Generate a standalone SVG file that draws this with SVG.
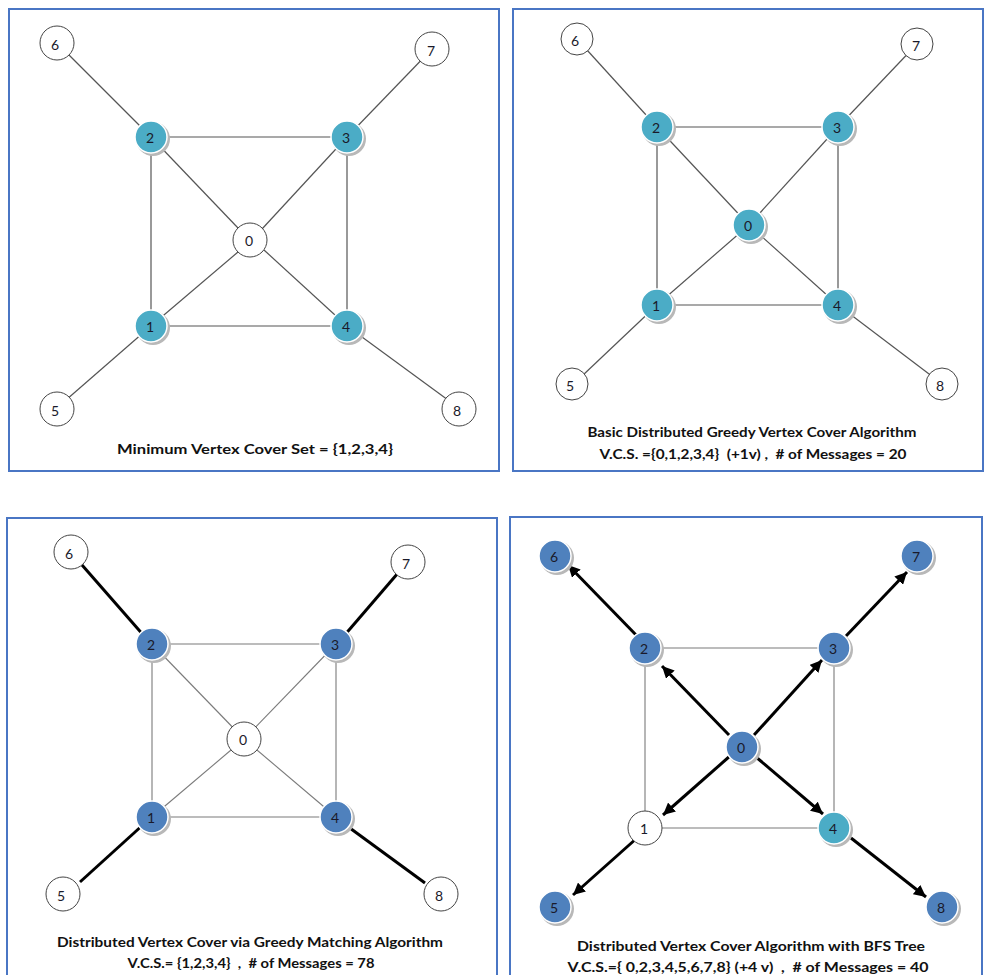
<svg xmlns="http://www.w3.org/2000/svg" width="985" height="975" viewBox="0 0 985 975">
<defs>
<marker id="ah" viewBox="0 0 10 10" refX="10" refY="5" markerWidth="4" markerHeight="4" orient="auto" markerUnits="strokeWidth">
<path d="M0,0 L10,5 L0,10 z" fill="#000"/>
</marker>
</defs>
<style>
.frame{fill:#fff;stroke:#4a76c4;stroke-width:2}
.e{stroke:#555;stroke-width:1.2;fill:none}
.el{stroke:#7a7a7a;stroke-width:1.1;fill:none}
.t{stroke:#000;stroke-width:3;fill:none}
.a{stroke:#000;stroke-width:3;fill:none;marker-end:url(#ah)}
.w{fill:#fff;stroke:#444;stroke-width:1}
.sh{fill:#b8b8b8}
.teal{fill:#4bacc6;stroke:#fff;stroke-width:1.5}
.blue{fill:#4f81bd;stroke:#fff;stroke-width:1.5}
.lb{font-family:"Lato","Liberation Sans",sans-serif;font-size:14px;fill:#1a1a2a;text-anchor:middle;dominant-baseline:central}
.cap{font-family:"Lato","Liberation Sans",sans-serif;font-size:14px;font-weight:bold;fill:#111;text-anchor:middle;white-space:pre}
</style>
<rect width="985" height="975" fill="#fff"/>

<!-- Panel 1 -->
<g id="panel1">
<rect class="frame" x="9" y="9" width="490" height="462"/>
<g id="p1-edges">
<line class="e" x1="57" y1="43" x2="151" y2="137"/>
<line class="e" x1="432" y1="49" x2="347" y2="137"/>
<line class="e" x1="151" y1="137" x2="347" y2="137"/>
<line class="e" x1="151" y1="137" x2="151" y2="326"/>
<line class="e" x1="347" y1="137" x2="347" y2="326"/>
<line class="e" x1="151" y1="326" x2="347" y2="326"/>
<line class="e" x1="151" y1="137" x2="238" y2="228"/>
<line class="e" x1="347" y1="137" x2="262" y2="229"/>
<line class="e" x1="151" y1="326" x2="238" y2="252"/>
<line class="e" x1="347" y1="326" x2="264" y2="250"/>
<line class="e" x1="151" y1="326" x2="66" y2="400"/>
<line class="e" x1="347" y1="326" x2="448" y2="400"/>
</g>
<g id="p1-n0"><circle class="w" cx="250" cy="240" r="17"/><text class="lb" x="249" y="240">0</text></g>
<g id="p1-n1"><circle class="sh" cx="153" cy="328" r="17"/><circle class="teal" cx="151" cy="326" r="16"/><text class="lb" x="150" y="326">1</text></g>
<g id="p1-n2"><circle class="sh" cx="153" cy="139" r="17"/><circle class="teal" cx="151" cy="137" r="16"/><text class="lb" x="150" y="137">2</text></g>
<g id="p1-n3"><circle class="sh" cx="349" cy="139" r="17"/><circle class="teal" cx="347" cy="137" r="16"/><text class="lb" x="346" y="137">3</text></g>
<g id="p1-n4"><circle class="sh" cx="349" cy="328" r="17"/><circle class="teal" cx="347" cy="326" r="16"/><text class="lb" x="346" y="326">4</text></g>
<g id="p1-n5"><circle class="w" cx="57" cy="409" r="17"/><text class="lb" x="55" y="410">5</text></g>
<g id="p1-n6"><circle class="w" cx="57" cy="43" r="17"/><text class="lb" x="55" y="44">6</text></g>
<g id="p1-n7"><circle class="w" cx="432" cy="49" r="17"/><text class="lb" x="431" y="50">7</text></g>
<g id="p1-n8"><circle class="w" cx="459" cy="409" r="17"/><text class="lb" x="457" y="410">8</text></g>
<text class="cap" x="255" y="454" textLength="276" lengthAdjust="spacingAndGlyphs">Minimum Vertex Cover Set = {1,2,3,4}</text>
</g>

<!-- Panel 2 -->
<g id="panel2">
<rect class="frame" x="513" y="9" width="470" height="462"/>
<g id="p2-edges">
<line class="e" x1="577" y1="39" x2="657" y2="127"/>
<line class="e" x1="917" y1="44" x2="838" y2="127"/>
<line class="e" x1="657" y1="127" x2="838" y2="127"/>
<line class="e" x1="657" y1="127" x2="657" y2="305"/>
<line class="e" x1="838" y1="127" x2="838" y2="305"/>
<line class="e" x1="657" y1="305" x2="838" y2="305"/>
<line class="e" x1="657" y1="127" x2="749" y2="225"/>
<line class="e" x1="838" y1="127" x2="749" y2="225"/>
<line class="e" x1="657" y1="305" x2="749" y2="225"/>
<line class="e" x1="838" y1="305" x2="749" y2="225"/>
<line class="e" x1="657" y1="305" x2="582" y2="376"/>
<line class="e" x1="838" y1="305" x2="933" y2="377"/>
</g>
<g id="p2-n0"><circle class="sh" cx="751" cy="227" r="17"/><circle class="teal" cx="749" cy="225" r="16"/><text class="lb" x="748" y="225">0</text></g>
<g id="p2-n1"><circle class="sh" cx="659" cy="307" r="17"/><circle class="teal" cx="657" cy="305" r="16"/><text class="lb" x="656" y="305">1</text></g>
<g id="p2-n2"><circle class="sh" cx="659" cy="129" r="17"/><circle class="teal" cx="657" cy="127" r="16"/><text class="lb" x="656" y="127">2</text></g>
<g id="p2-n3"><circle class="sh" cx="840" cy="129" r="17"/><circle class="teal" cx="838" cy="127" r="16"/><text class="lb" x="837" y="127">3</text></g>
<g id="p2-n4"><circle class="sh" cx="840" cy="307" r="17"/><circle class="teal" cx="838" cy="305" r="16"/><text class="lb" x="837" y="305">4</text></g>
<g id="p2-n5"><circle class="w" cx="572" cy="384" r="16"/><text class="lb" x="570" y="385">5</text></g>
<g id="p2-n6"><circle class="w" cx="577" cy="39" r="16"/><text class="lb" x="575" y="40">6</text></g>
<g id="p2-n7"><circle class="w" cx="917" cy="44" r="16"/><text class="lb" x="916" y="45">7</text></g>
<g id="p2-n8"><circle class="w" cx="942" cy="384" r="16"/><text class="lb" x="940" y="385">8</text></g>
<text class="cap" x="752" y="437" textLength="329" lengthAdjust="spacingAndGlyphs">Basic Distributed Greedy Vertex Cover Algorithm</text>
<text class="cap" x="753" y="459" textLength="307" lengthAdjust="spacingAndGlyphs">V.C.S. ={0,1,2,3,4}  (+1v) ,  # of Messages = 20</text>
</g>

<!-- Panel 3 -->
<g id="panel3">
<rect class="frame" x="7" y="518" width="490" height="470"/>
<g id="p3-edges">
<line class="el" x1="152" y1="644" x2="336" y2="644"/>
<line class="el" x1="152" y1="644" x2="152" y2="817"/>
<line class="el" x1="336" y1="644" x2="336" y2="817"/>
<line class="el" x1="152" y1="817" x2="336" y2="817"/>
<line class="el" x1="152" y1="644" x2="244" y2="739"/>
<line class="el" x1="336" y1="644" x2="244" y2="739"/>
<line class="el" x1="152" y1="817" x2="244" y2="739"/>
<line class="el" x1="336" y1="817" x2="244" y2="739"/>
<line class="t" x1="82" y1="565" x2="145" y2="637"/>
<line class="t" x1="398" y1="573" x2="343" y2="637"/>
<line class="t" x1="145" y1="823" x2="80" y2="882"/>
<line class="t" x1="343" y1="823" x2="425" y2="883"/>
</g>
<g id="p3-n0"><circle class="w" cx="244" cy="739" r="17"/><text class="lb" x="243" y="739">0</text></g>
<g id="p3-n1"><circle class="sh" cx="154" cy="819" r="17"/><circle class="blue" cx="152" cy="817" r="16"/><text class="lb" x="151" y="817">1</text></g>
<g id="p3-n2"><circle class="sh" cx="154" cy="646" r="17"/><circle class="blue" cx="152" cy="644" r="16"/><text class="lb" x="151" y="644">2</text></g>
<g id="p3-n3"><circle class="sh" cx="338" cy="646" r="17"/><circle class="blue" cx="336" cy="644" r="16"/><text class="lb" x="335" y="644">3</text></g>
<g id="p3-n4"><circle class="sh" cx="338" cy="819" r="17"/><circle class="blue" cx="336" cy="817" r="16"/><text class="lb" x="335" y="817">4</text></g>
<g id="p3-n5"><circle class="w" cx="63" cy="894" r="17"/><text class="lb" x="61" y="895">5</text></g>
<g id="p3-n6"><circle class="w" cx="71" cy="552" r="17"/><text class="lb" x="69" y="553">6</text></g>
<g id="p3-n7"><circle class="w" cx="408" cy="562" r="17"/><text class="lb" x="406" y="563">7</text></g>
<g id="p3-n8"><circle class="w" cx="441" cy="894" r="17"/><text class="lb" x="439" y="895">8</text></g>
<text class="cap" x="250" y="947" textLength="386" lengthAdjust="spacingAndGlyphs">Distributed Vertex Cover via Greedy Matching Algorithm</text>
<text class="cap" x="251" y="968" textLength="247" lengthAdjust="spacingAndGlyphs">V.C.S.= {1,2,3,4}  ,  # of Messages = 78</text>
</g>

<!-- Panel 4 -->
<g id="panel4">
<rect class="frame" x="510" y="517" width="472" height="470"/>
<g id="p4-edges">
<line class="el" x1="645" y1="648" x2="834" y2="648"/>
<line class="el" x1="645" y1="648" x2="645" y2="828"/>
<line class="el" x1="834" y1="648" x2="834" y2="828"/>
<line class="el" x1="645" y1="828" x2="834" y2="828"/>
<line class="a" x1="639" y1="638" x2="568" y2="565"/>
<line class="a" x1="846" y1="636" x2="907" y2="572"/>
<line class="a" x1="729" y1="735" x2="662" y2="666"/>
<line class="a" x1="754" y1="735" x2="822" y2="660"/>
<line class="a" x1="730" y1="756" x2="663" y2="815"/>
<line class="a" x1="756" y1="757" x2="823" y2="814"/>
<line class="a" x1="637" y1="838" x2="573" y2="895"/>
<line class="a" x1="851" y1="838" x2="926" y2="897"/>
</g>
<g id="p4-n0"><circle class="sh" cx="744" cy="749" r="17"/><circle class="blue" cx="742" cy="747" r="16"/><text class="lb" x="741" y="747">0</text></g>
<g id="p4-n1"><circle class="w" cx="645" cy="828" r="17"/><text class="lb" x="644" y="828">1</text></g>
<g id="p4-n2"><circle class="sh" cx="647" cy="650" r="17"/><circle class="blue" cx="645" cy="648" r="16"/><text class="lb" x="644" y="648">2</text></g>
<g id="p4-n3"><circle class="sh" cx="836" cy="650" r="17"/><circle class="blue" cx="834" cy="648" r="16"/><text class="lb" x="833" y="648">3</text></g>
<g id="p4-n4"><circle class="sh" cx="836" cy="830" r="17"/><circle class="teal" cx="834" cy="828" r="16"/><text class="lb" x="833" y="828">4</text></g>
<g id="p4-n5"><circle class="sh" cx="557" cy="909" r="17"/><circle class="blue" cx="555" cy="907" r="16"/><text class="lb" x="554" y="907">5</text></g>
<g id="p4-n6"><circle class="sh" cx="557" cy="558" r="17"/><circle class="blue" cx="555" cy="556" r="16"/><text class="lb" x="554" y="556">6</text></g>
<g id="p4-n7"><circle class="sh" cx="919" cy="558" r="17"/><circle class="blue" cx="917" cy="556" r="16"/><text class="lb" x="916" y="556">7</text></g>
<g id="p4-n8"><circle class="sh" cx="944" cy="909" r="17"/><circle class="blue" cx="942" cy="907" r="16"/><text class="lb" x="941" y="907">8</text></g>
<text class="cap" x="751" y="951" textLength="348" lengthAdjust="spacingAndGlyphs">Distributed Vertex Cover Algorithm with BFS Tree</text>
<text class="cap" x="748" y="972" textLength="361" lengthAdjust="spacingAndGlyphs">V.C.S.={ 0,2,3,4,5,6,7,8} (+4 v)  ,  # of Messages = 40</text>
</g>
</svg>
